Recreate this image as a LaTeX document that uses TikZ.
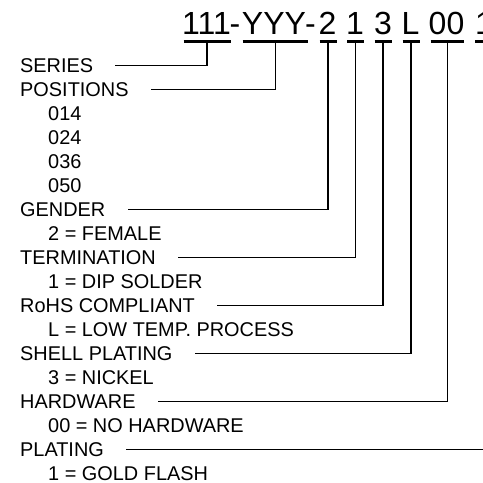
\documentclass[tikz,border=0pt]{standalone}
\usepackage{fontspec}
\setmainfont{Liberation Sans}
\begin{document}
\begin{tikzpicture}[x=1bp,y=-1bp,
  lbl/.style={anchor=west, inner sep=0pt, text height=14.2bp, text depth=0pt, font=\fontsize{19.9bp}{24bp}\selectfont},
  code/.style={anchor=base, inner sep=0pt, font=\fontsize{32bp}{36bp}\selectfont},
  uline/.style={line width=2.4bp},
  conn/.style={line width=1.4bp, shorten >=22bp}]
\useasboundingbox (0,0) rectangle (483,483);
\clip (0,0) rectangle (483,483);
% code title
\node[code] (c111) at (206.5,35) {111};
\node[code] (d1) at (235,35) {-};
\node[code] (cY) at (274,35) {YYY};
\node[code] (d2) at (310.5,35) {-};
\node[code] (c2) at (327.5,35) {2};
\node[code] (c1) at (355,35) {1};
\node[code] (c3) at (383,35) {3};
\node[code] (cL) at (410.5,35) {L};
\node[code] (c00) at (446.5,35) {00};
\node[code] (c1b) at (484,35) {1};
% underline anchor points
\coordinate (u111) at (207,41.7);
\coordinate (uY) at (275.5,41.7);
\coordinate (u2) at (328,41.7);
\coordinate (u1) at (355.5,41.7);
\coordinate (u3) at (383,41.7);
\coordinate (uL) at (411,41.7);
\coordinate (u00) at (447.5,41.7);
\coordinate (u1b) at (485,41.7);
\draw[uline] ([xshift=-23.5bp]u111) -- ([xshift=23.5bp]u111);
\draw[uline] ([xshift=-33bp]uY) -- ([xshift=32bp]uY);
\foreach \u in {u2,u1,u3,uL}{\draw[uline] ([xshift=-8.5bp]\u) -- ([xshift=8.5bp]\u);}
\draw[uline] ([xshift=-17bp]u00) -- ([xshift=16bp]u00);
\draw[uline] ([xshift=-10bp]u1b) -- ([xshift=8bp]u1b);
% labels
\node[lbl] (series) at (20,65.3) {SERIES};
\node[lbl] (positions) at (20,89.3) {POSITIONS};
\node[lbl] (p014) at (48,113.3) {014};
\node[lbl] (p024) at (48,137.3) {024};
\node[lbl] (p036) at (48,161.3) {036};
\node[lbl] (p050) at (48,185.3) {050};
\node[lbl] (gender) at (20,209.3) {GENDER};
\node[lbl] (female) at (48,233.3) {2 = FEMALE};
\node[lbl] (term) at (20,257.3) {TERMINATION};
\node[lbl] (dip) at (48,281.3) {1 = DIP SOLDER};
\node[lbl] (rohs) at (20,305.3) {RoHS COMPLIANT};
\node[lbl] (low) at (48,329.3) {L = LOW TEMP. PROCESS};
\node[lbl] (shell) at (20,353.3) {SHELL PLATING};
\node[lbl] (nickel) at (48,377.3) {3 = NICKEL};
\node[lbl] (hw) at (20,401.3) {HARDWARE};
\node[lbl] (nohw) at (48,425.3) {00 = NO HARDWARE};
\node[lbl] (plating) at (20,449.3) {PLATING};
\node[lbl] (gold) at (48,473.3) {1 = GOLD FLASH};
% connectors
\draw[conn] (u111) |- (series.east);
\draw[conn] (uY) |- (positions.east);
\draw[conn] (u2) |- (gender.east);
\draw[conn] (u1) |- (term.east);
\draw[conn] (u3) |- (rohs.east);
\draw[conn] (uL) |- (shell.east);
\draw[conn] (u00) |- (hw.east);
\draw[conn] (u1b) |- (plating.east);
\end{tikzpicture}
\end{document}
